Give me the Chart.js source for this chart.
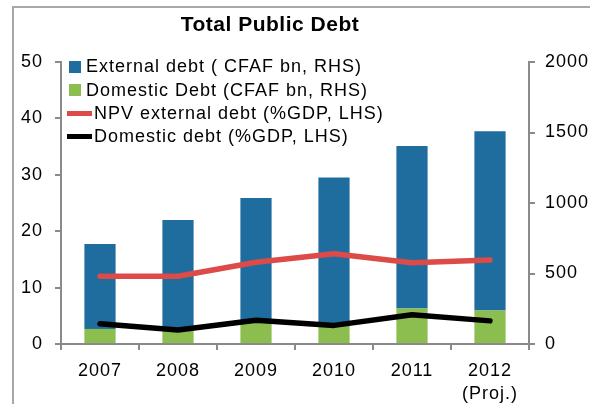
<!DOCTYPE html>
<html>
<head>
<meta charset="utf-8">
<script src="https://cdn.jsdelivr.net/npm/chart.js@4/dist/chart.umd.min.js"></script>
<style>
  html, body { margin:0; padding:0; background:#fff; overflow:hidden; }
  #wrap { position:relative; width:590px; height:404px; font-family:"Liberation Sans", Arial, sans-serif; }
  #frame { position:absolute; left:12px; top:6px; width:620px; height:440px; border-left:2px solid #a8a8a8; border-top:2px solid #a8a8a8; }
  canvas { position:absolute; left:0; top:0; }
  #title { position:absolute; left:0; top:13px; width:540px; text-align:center; font-weight:bold; font-size:21px; line-height:22px; letter-spacing:0.5px; color:#000; }
  #legend { position:absolute; left:67px; top:55px; font-size:18px; letter-spacing:1px; color:#000; }
  .row { height:23.4px; display:flex; align-items:center; white-space:nowrap; }
  .sq { width:12px; height:12px; margin-left:2px; margin-right:5px; flex:none; }
  .ln { width:25px; height:5px; margin-right:2px; flex:none; }
</style>
</head>
<body>
<div id="wrap">
  <div id="frame"></div>
  <canvas id="c" width="590" height="404"></canvas>
  <div id="title">Total Public Debt</div>
  <div id="legend"></div>
</div>
<script>
// ---- data ----
const years = ['2007', '2008', '2009', '2010', '2011', '2012'];
const yearNotes = ['', '', '', '', '', '(Proj.)'];
const externalDebtCFAF = [602, 775, 876, 1050, 1153, 1271];   // RHS, stacked on top
const domesticDebtCFAF = [107, 105, 160, 130, 251, 237];      // RHS, stacked at bottom
const npvExternalPctGDP = [12.0, 12.0, 14.5, 16.0, 14.4, 14.9]; // LHS
const domesticPctGDP = [3.6, 2.5, 4.2, 3.3, 5.2, 4.1];        // LHS
const leftTicks = [0, 10, 20, 30, 40, 50];
const rightTicks = [0, 500, 1000, 1500, 2000];

const seriesNames = {
  ext: 'External debt ( CFAF bn, RHS)',
  dom: 'Domestic Debt (CFAF bn, RHS)',
  npv: 'NPV external debt (%GDP, LHS)',
  domPct: 'Domestic debt (%GDP, LHS)'
};
const colors = { ext:'#1f6c9e', dom:'#8cbd4f', npv:'#dc4b47', domPct:'#000000' };

const labels = years.map((y, i) => yearNotes[i] ? [y, yearNotes[i]] : y);

const axisColor = '#8a8a8a';
const tickFont = { family: '"Liberation Sans", Arial, sans-serif', size: 18, lineHeight: 1.25 };

const spacingPlugin = {
  id: 'spacing',
  beforeDraw(chart) { chart.ctx.letterSpacing = '1px'; }
};

const chart = new Chart(document.getElementById('c'), {
  type: 'bar',
  data: {
    labels,
    datasets: [
      { type:'line', label: seriesNames.npv, data: npvExternalPctGDP, yAxisID:'yL', order:0,
        borderColor: colors.npv, backgroundColor: colors.npv, borderWidth:5.5, pointRadius:0,
        borderCapStyle:'round', borderJoinStyle:'round', tension:0 },
      { type:'line', label: seriesNames.domPct, data: domesticPctGDP, yAxisID:'yL', order:0,
        borderColor: colors.domPct, backgroundColor: colors.domPct, borderWidth:5.5, pointRadius:0,
        borderCapStyle:'round', borderJoinStyle:'round', tension:0 },
      { label: seriesNames.dom, data: domesticDebtCFAF, yAxisID:'yR', order:1,
        backgroundColor: colors.dom, barPercentage:0.4, categoryPercentage:1 },
      { label: seriesNames.ext, data: externalDebtCFAF, yAxisID:'yR', order:2,
        backgroundColor: colors.ext, barPercentage:0.4, categoryPercentage:1 }
    ]
  },
  options: {
    responsive:false,
    animation:false,
    layout: { padding: { top:62, left:0, right:0, bottom:0 } },
    plugins: { legend:{ display:false }, title:{ display:false }, tooltip:{ enabled:false } },
    scales: {
      x: {
        stacked:true,
        offset:true,
        grid: { drawOnChartArea:false, drawTicks:true, tickLength:6, color:axisColor, lineWidth:2, offset:true },
        border: { color:axisColor, width:2 },
        ticks: { font:tickFont, color:'#000', padding:10, maxRotation:0, autoSkip:false },
        afterFit(s) { s.height = 60; }
      },
      yL: {
        position:'left',
        min:0, max:50,
        afterBuildTicks(s) { s.ticks = leftTicks.map(v => ({ value:v })); },
        grid: { drawOnChartArea:false, drawTicks:true, tickLength:6, color:axisColor, lineWidth:2 },
        border: { color:axisColor, width:2 },
        ticks: { font:tickFont, color:'#000', padding:12, callback: v => String(v) },
        afterFit(s) { s.width = 61; }
      },
      yR: {
        position:'right',
        stacked:true,
        min:0, max:2000,
        afterBuildTicks(s) { s.ticks = rightTicks.map(v => ({ value:v })); },
        grid: { drawOnChartArea:false, drawTicks:true, tickLength:6, color:axisColor, lineWidth:2 },
        border: { color:axisColor, width:2 },
        ticks: { font:tickFont, color:'#000', padding:10, callback: v => String(v) },
        afterFit(s) { s.width = 61; }
      }
    }
  },
  plugins: [spacingPlugin]
});

// HTML legend built from the datasets, in the reference's order
const legendOrder = [3, 2, 0, 1];
const legendEl = document.getElementById('legend');
legendOrder.forEach(i => {
  const ds = chart.data.datasets[i];
  const row = document.createElement('div');
  row.className = 'row';
  const mk = document.createElement('span');
  const isLine = ds.type === 'line';
  mk.className = isLine ? 'ln' : 'sq';
  mk.style.background = isLine ? ds.borderColor : ds.backgroundColor;
  const tx = document.createElement('span');
  tx.textContent = ds.label;
  row.appendChild(mk); row.appendChild(tx);
  legendEl.appendChild(row);
});
</script>
</body>
</html>
